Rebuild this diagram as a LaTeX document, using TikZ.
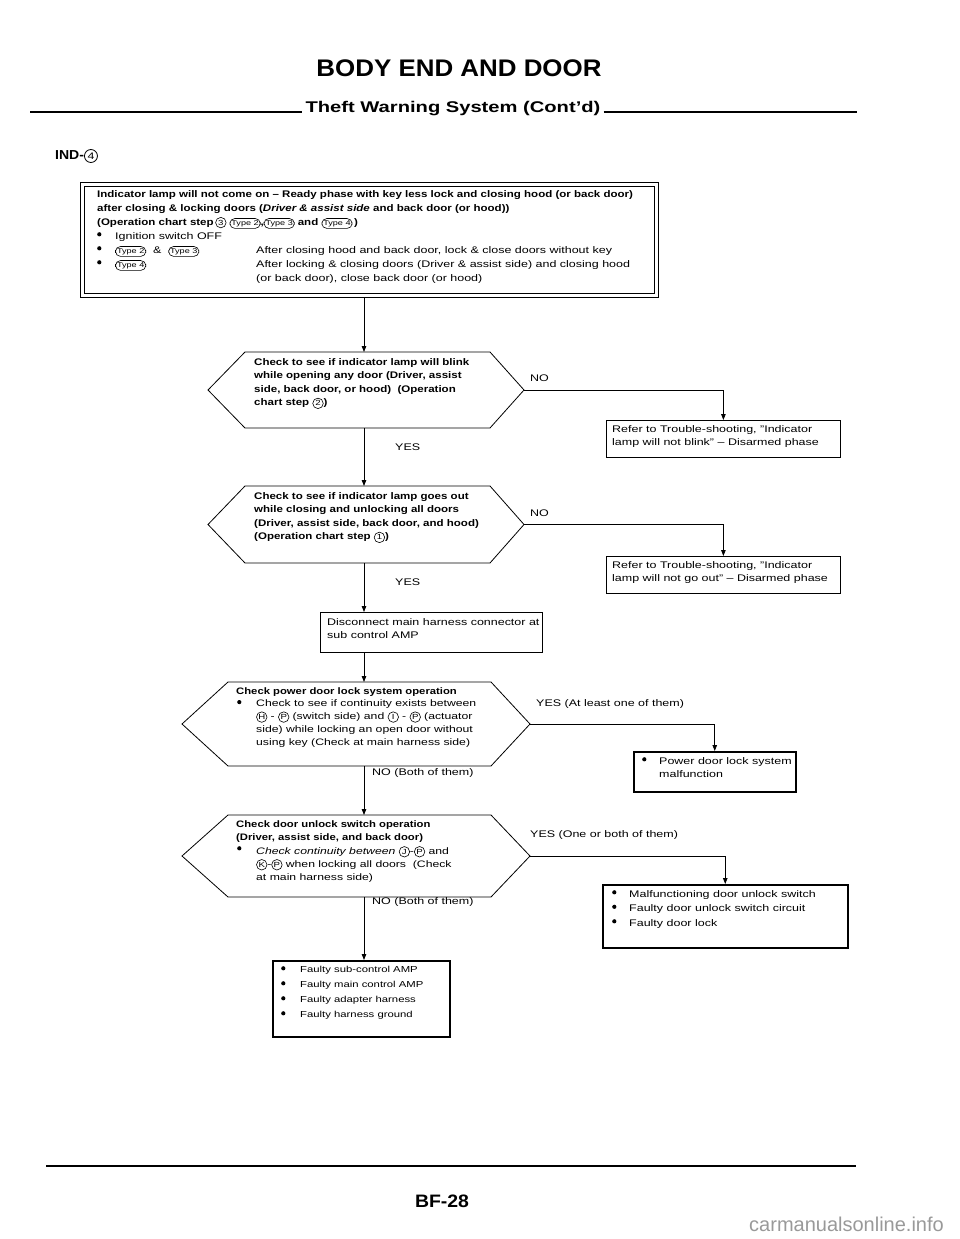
\documentclass[tikz,border=0pt]{standalone}
\usepackage{fontspec}
\setmainfont{Liberation Sans}
\newfontfamily\rgf{Liberation Sans}[FakeStretch=1.3,Ligatures=TeX]
\newfontfamily\bdf{Liberation Sans}[FakeStretch=1.2,Ligatures=TeX]
\newfontfamily\hdf{Liberation Sans}[FakeStretch=1.08,Ligatures=TeX]
\newfontfamily\shf{Liberation Sans}[FakeStretch=1.3,Ligatures=TeX]
\usetikzlibrary{arrows.meta}
\newcommand{\cc}[1]{\tikz[baseline=(cx.base)]\node[draw,circle,inner sep=0pt,minimum size=10.5pt,font=\rgf\fontsize{7.4}{7.4}\selectfont\mdseries\upshape,line width=0.6pt](cx){#1};}
\newcommand{\ccl}[1]{\tikz[baseline=(cx.base)]\node[draw,circle,inner sep=0pt,minimum size=13pt,font=\rgf\fontsize{9.5}{9.5}\selectfont\mdseries\upshape,line width=0.8pt](cx){#1};}
\newcommand{\ty}[1]{\tikz[baseline=(tx.base)]\node[draw,rounded corners=5pt,inner xsep=1.5pt,inner ysep=1.8pt,font=\rgf\fontsize{7}{7}\selectfont\mdseries\upshape,line width=0.6pt](tx){Type #1};}
\newcommand{\bul}{\tikz[baseline=0pt]\fill (0,3.2pt) circle[radius=2.1pt];}
\newcommand{\hexa}[7]{%
  \coordinate (#1-l) at (#2,{(#6+#7)/2});
  \coordinate (#1-tl) at (#3,#6);
  \coordinate (#1-tr) at (#4,#6);
  \coordinate (#1-r) at (#5,{(#6+#7)/2});
  \coordinate (#1-br) at (#4,#7);
  \coordinate (#1-bl) at (#3,#7);
  \coordinate (#1-t) at (364,#6);
  \coordinate (#1-b) at (364,#7);
  \draw[ln] (#1-l) -- (#1-tl) -- (#1-tr) -- (#1-r) -- (#1-br) -- (#1-bl) -- cycle;}
\tikzset{
  ln/.style={line width=0.8pt},
  rtxt/.style={font=\rgf\fontsize{9.6}{13.6}\selectfont, align=left, inner sep=0pt, anchor=north west},
  btxt/.style={font=\bdf\bfseries\fontsize{9.6}{13.6}\selectfont, align=left, inner sep=0pt, anchor=north west},
  lbl/.style={font=\rgf\fontsize{9.6}{10}\selectfont, anchor=west, inner sep=0pt},
  boxn/.style={draw, line width=0.8pt, anchor=north west, inner sep=0pt},
  tbox/.style={draw, line width=1.5pt, anchor=north west, inner sep=0pt},
  arr/.style={ln, -{Triangle[width=4.5pt,length=6pt]}},
}
\begin{document}
\begin{tikzpicture}[x=1pt,y=-1pt]
\useasboundingbox (0,0) rectangle (960,1239);
% header
\node[font=\hdf\bfseries\fontsize{24}{24}\selectfont, inner sep=0] (title) at (459,68) {BODY END AND DOOR};
\node[font=\shf\bfseries\fontsize{15.5}{15.5}\selectfont, inner sep=0, anchor=base] (sub) at (453,112) {Theft Warning System (Cont’d)};
\coordinate (hl1) at (30,112); \coordinate (hr2) at (857,112);
\draw[line width=1.4pt] (hl1) -- ([xshift=-3pt]sub.west |- hl1);
\draw[line width=1.4pt] ([xshift=3pt]sub.east |- hr2) -- (hr2);
\node[font=\hdf\bfseries\fontsize{13}{13}\selectfont, anchor=west, inner sep=0] (ind) at (55,156) {IND-\ccl{4}};
% top box (double frame)
\node[draw, line width=1.3pt, minimum width=578, minimum height=115, anchor=north west, inner sep=0] (top) at (80,182) {};
\node[draw, line width=0.7pt, minimum width=570, minimum height=107, anchor=north west, inner sep=0] (topin) at (84,186) {};
\node[btxt, font=\bdf\bfseries\fontsize{9.6}{14}\selectfont] (t1) at (97,190) {Indicator lamp will not come on – Ready phase with key less lock and closing hood (or back door)\\
after closing \& locking doors (\textit{Driver \& assist side} and back door (or hood))\\
(Operation chart step\,\cc{3} \ty{2},\ty{3} and \ty{4}\,)};
\node[rtxt, font=\rgf\fontsize{9.6}{14}\selectfont] (t2) at (97,232) {\bul\\ \bul\\ \bul};
\node[rtxt, font=\rgf\fontsize{9.6}{14}\selectfont] (t3) at (115,232) {Ignition switch OFF\\ \ty{2} \ \& \ \ty{3}\\ \ty{4}};
\node[rtxt, font=\rgf\fontsize{9.6}{14}\selectfont] (t4) at (256,246) {After closing hood and back door, lock \& close doors without key\\
After locking \& closing doors (Driver \& assist side) and closing hood\\
(or back door), close back door (or hood)};
% hex 1
\hexa{h1}{208}{245}{490}{524}{352}{428}
\node[btxt] (h1t) at (254,358) {Check to see if indicator lamp will blink\\ while opening any door (Driver, assist\\ side, back door, or hood)\ \ (Operation\\ chart step \cc{2})};
\draw[arr] (top.south -| h1-t) -- (h1-t);
\node[lbl] (no1) at (530,378) {NO};
\node[boxn, minimum width=234, minimum height=37] (r1) at (606,420) {};
\node[rtxt] (r1t) at (612,425) {Refer to Trouble-shooting, ”Indicator\\ lamp will not blink” – Disarmed phase};
\draw[arr] (h1-r) -| (r1.north);
% hex 2
\hexa{h2}{208}{245}{490}{524}{486}{563}
\node[btxt] (h2t) at (254,492) {Check to see if indicator lamp goes out\\ while closing and unlocking all doors\\ (Driver, assist side, back door, and hood)\\ (Operation chart step \cc{1})};
\draw[arr] (h1-b) -- (h2-t);
\node[lbl] (yes1) at (395,447) {YES};
\node[lbl] (no2) at (530,513) {NO};
\node[boxn, minimum width=234, minimum height=37] (r2) at (606,556) {};
\node[rtxt] (r2t) at (612,561) {Refer to Trouble-shooting, ”Indicator\\ lamp will not go out” – Disarmed phase};
\draw[arr] (h2-r) -| (r2.north);
% disconnect box
\node[boxn, minimum width=222, minimum height=40] (dc) at (320,612) {};
\node[rtxt] (dct) at (327,618) {Disconnect main harness connector at\\ sub control AMP};
\draw[arr] (h2-b) -- (dc.north -| h2-b);
\node[lbl] (yes2) at (395,582) {YES};
% hex 3
\hexa{h3}{182}{228}{491}{530}{682}{766}
\draw[arr] (dc.south -| h3-t) -- (h3-t);
\node[btxt, font=\bdf\bfseries\fontsize{9.4}{12.8}\selectfont] (h3a) at (236,687) {Check power door lock system operation};
\node[rtxt, font=\rgf\fontsize{9.4}{12.8}\selectfont] (h3b) at (237,699.8) {\bul};
\node[rtxt, font=\rgf\fontsize{9.4}{12.8}\selectfont] (h3c) at (256,699.8) {Check to see if continuity exists between\\ \cc{H} - \cc{P} (switch side) and \cc{I} - \cc{P} (actuator\\ side) while locking an open door without\\ using key (Check at main harness side)};
\node[lbl] (yes3) at (536,704) {YES (At least one of them)};
\node[tbox, minimum width=162, minimum height=40] (pw) at (633,751) {};
\node[rtxt] (pwb) at (642,757) {\bul};
\node[rtxt] (pwt) at (659,757) {Power door lock system\\ malfunction};
\draw[arr] (h3-r) -| (pw.north);
\node[lbl] (no3) at (372,773) {NO (Both of them)};
% hex 4
\hexa{h4}{182}{228}{491}{530}{815}{897}
\draw[arr] (h3-b) -- (h4-t);
\node[btxt, font=\bdf\bfseries\fontsize{9.4}{13}\selectfont] (h4a) at (236,820) {Check door unlock switch operation\\ (Driver, assist side, and back door)};
\node[rtxt, font=\rgf\fontsize{9.4}{13}\selectfont] (h4b) at (237,846) {\bul};
\node[rtxt, font=\rgf\fontsize{9.4}{13}\selectfont] (h4c) at (256,846) {\textit{Check continuity between} \cc{J}-\cc{P} and\\ \cc{K}-\cc{P} when locking all doors\ \ (Check\\ at main harness side)};
\node[lbl] (yes4) at (530,835) {YES (One or both of them)};
\node[tbox, minimum width=245, minimum height=63] (mf) at (602,884) {};
\node[rtxt, font=\rgf\fontsize{9.6}{14.5}\selectfont] (mfb) at (612,890) {\bul\\ \bul\\ \bul};
\node[rtxt, font=\rgf\fontsize{9.6}{14.5}\selectfont] (mft) at (629,890) {Malfunctioning door unlock switch\\ Faulty door unlock switch circuit\\ Faulty door lock};
\draw[arr] (h4-r) -| (mf.north);
\node[lbl] (no4) at (372,902) {NO (Both of them)};
% final box
\node[tbox, minimum width=177, minimum height=76] (fl) at (272,960) {};
\node[rtxt, font=\rgf\fontsize{8.7}{15}\selectfont] (flb) at (281,966) {\bul\\ \bul\\ \bul\\ \bul};
\node[rtxt, font=\rgf\fontsize{8.7}{15}\selectfont] (flt) at (300,966) {Faulty sub-control AMP\\ Faulty main control AMP\\ Faulty adapter harness\\ Faulty harness ground};
\draw[arr] (h4-b) -- (fl.north -| h4-b);
% footer
\coordinate (fl1) at (46,1166); \coordinate (fl2) at (856,1166);
\draw[line width=2.2pt] (fl1) -- (fl2);
\node[font=\hdf\bfseries\fontsize{18}{18}\selectfont, inner sep=0] (pg) at (442,1201) {BF-28};
\node[font=\fontsize{20}{20}\selectfont, text=black!40, anchor=east, inner sep=0] (wm) at (944,1224) {carmanualsonline.info};
\end{tikzpicture}
\end{document}
